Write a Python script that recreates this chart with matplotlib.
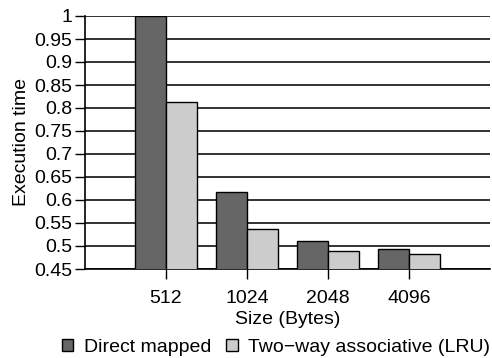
import matplotlib
matplotlib.use("Agg")
import matplotlib.pyplot as plt
import numpy as np

plt.rcParams["font.family"] = ["Liberation Sans", "DejaVu Sans"]

sizes = ["512", "1024", "2048", "4096"]
direct = [1.0, 0.617, 0.511, 0.493]
twoway = [0.812, 0.538, 0.490, 0.483]
yticks = [0.45, 0.5, 0.55, 0.6, 0.65, 0.7, 0.75, 0.8, 0.85, 0.9, 0.95, 1.0]

fig = plt.figure(figsize=(4.92, 3.58), dpi=100)
ax = fig.add_axes([85 / 492, 89 / 358, 405 / 492, 253 / 358])

x = np.arange(len(sizes))
w = 0.38
ax.bar(x - w / 2, direct, w, color="#666666", edgecolor="black", linewidth=1,
       label="Direct mapped", zorder=3)
ax.bar(x + w / 2, twoway, w, color="#cccccc", edgecolor="black", linewidth=1,
       label="Two\u2212way associative (LRU)", zorder=3)

ax.set_xlim(-1, 4)
ax.set_ylim(0.45, 1.0)
ax.set_yticks(yticks)
ax.set_yticklabels(["%g" % v for v in yticks])
ax.set_xticks(x)
ax.set_xticklabels(sizes)
ax.yaxis.grid(True, color="#222222", linewidth=1.3, zorder=0)
ax.set_axisbelow(True)
for s in ["top", "right"]:
    ax.spines[s].set_visible(False)
ax.spines["left"].set_linewidth(1.2)
ax.spines["bottom"].set_linewidth(1.2)
ax.tick_params(axis="both", labelsize=14, length=7, width=1, direction="out", pad=2)
ax.tick_params(axis="x", pad=8)

ax.set_xlabel("Size (Bytes)", fontsize=14, labelpad=3)
ax.set_ylabel("Execution time", fontsize=14, labelpad=3)

fig.legend(loc="center", bbox_to_anchor=(276 / 492, 1 - 347 / 358), ncol=2,
           frameon=False, fontsize=14, handlelength=0.57, handleheight=0.57,
           handletextpad=0.55, columnspacing=0.8, borderpad=0)

fig.savefig("out.png", dpi=100)
